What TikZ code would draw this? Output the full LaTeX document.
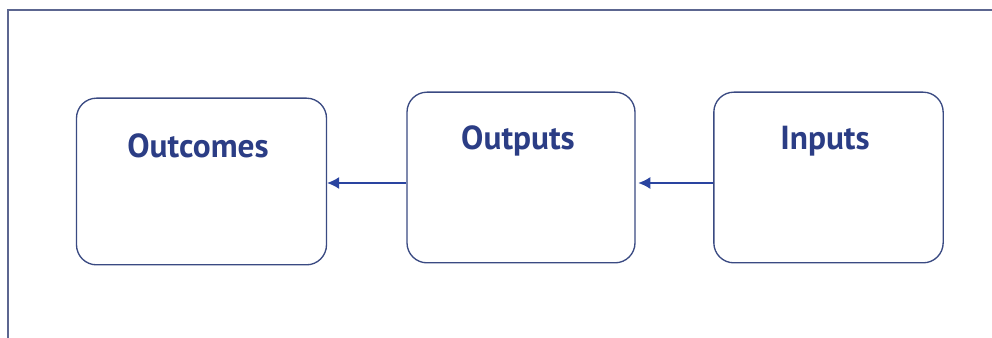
\documentclass[tikz,border=0pt]{standalone}
\usepackage{fontspec}
\setmainfont{PT Sans}
\usepackage{xcolor}
\usetikzlibrary{arrows.meta, positioning}

\definecolor{boxline}{HTML}{3A4A82}
\definecolor{textblue}{HTML}{2B3D85}
\definecolor{arrowblue}{HTML}{2A44A0}
\definecolor{frameline}{HTML}{5C6690}

\begin{document}
\begin{tikzpicture}[x=0.75pt, y=-0.75pt,
    stage/.style={draw=boxline, line width=1pt, rounded corners=15pt, fill=white},
    stagetext/.style={text=textblue, font=\fontsize{25}{29}\selectfont\bfseries},
    flow/.style={draw=arrowblue, line width=1pt, -{Latex[length=9pt, width=9pt]}}]
      % Fix the page size
      \useasboundingbox (0,0) rectangle (992,338);

      % Outer frame, open at the right and bottom
      \draw[frameline, line width=1.8pt] (8,338) -- (8,10) -- (992,10);

      % The three stages
      \node[stage, minimum width=187.5pt, minimum height=125pt] (outcomes) at (201.5,181.5) {};
      \node[stage, minimum width=171pt, minimum height=128pt] (outputs) at (521,177.5) {};
      \node[stage, minimum width=172pt, minimum height=128pt] (inputs) at (828.5,177.5) {};

      % Stage titles
      \node[stagetext] (outcomestext) at (198,146) {Outcomes};
      \node[stagetext] (outputstext) at (518,141) {Outputs};
      \node[stagetext] (inputstext) at (825,141) {Inputs};

      % Arrows
      \draw[flow] (outputs.west |- 0,183) -- (outcomes.east |- 0,183);
      \draw[flow] (inputs.west |- 0,183) -- ([xshift=2pt]outputs.east |- 0,183);
\end{tikzpicture}
\end{document}
